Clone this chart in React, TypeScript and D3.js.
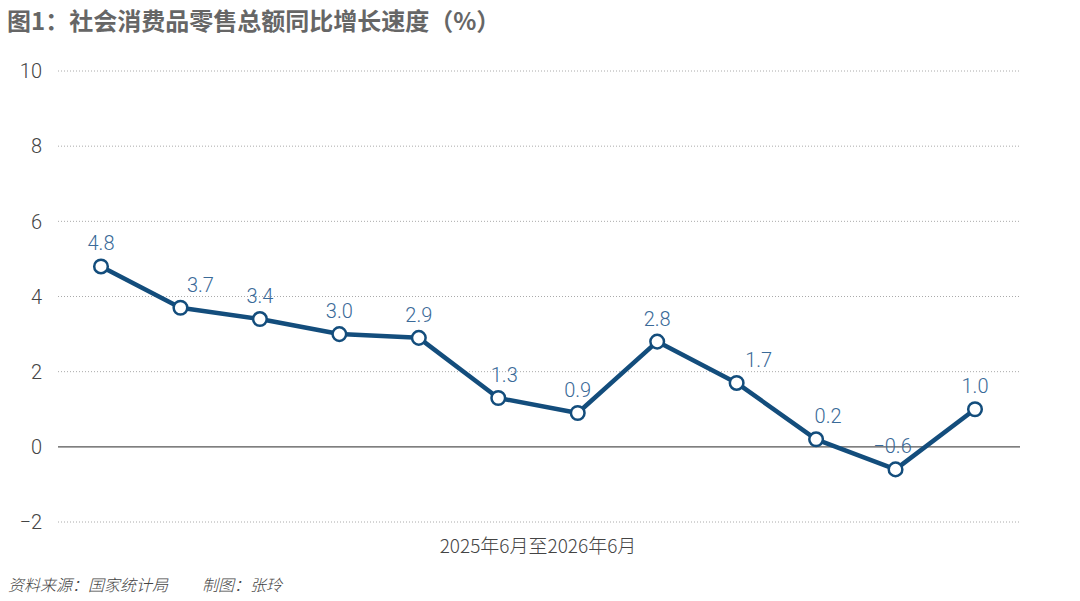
import * as d3 from "d3"
import React from "react"

// 2025年6月 — 2026年6月, one point per month
const months = ["2025-06", "2025-07", "2025-08", "2025-09", "2025-10", "2025-11", "2025-12", "2026-01", "2026-02", "2026-03", "2026-04", "2026-05"]
const growth = [4.8, 3.7, 3.4, 3.0, 2.9, 1.3, 0.9, 2.8, 1.7, 0.2, -0.6, 1.0]
const yTicks = [-2, 0, 2, 4, 6, 8, 10]
// small horizontal nudges so labels clear the line
const labelShift = [0, 20, 0, 0, 0, 6, 0, 0, 22, 12, -3, 0]

const title = "图1：社会消费品零售总额同比增长速度（%）"
const xTitle = "2025年6月至2026年6月"
const footer = "资料来源：国家统计局"
const credit = "制图：张玲"

const width = 1080,
  height = 601

function App() {
  const x = d3.scalePoint<string>().domain(months).range([101, 975])
  const y = d3.scaleLinear().domain([-2, 10]).range([522, 71])

  const line = d3
    .line<number>()
    .x((d, i) => x(months[i]))
    .y((d) => y(d))

  const font = "Roboto, 'Liberation Sans', sans-serif"
  const cjk = "'Noto Sans CJK SC', sans-serif"

  return (
    <svg
      width={width}
      height={height}
      style={{ position: "absolute", left: 0, top: 0, background: "#fff" }}
    >
      <text x={7} y={30} fontFamily={cjk} fontWeight="bold" fontSize={24} fill="#666">
        {title}
      </text>

      {yTicks.map((t) => (
        <g key={t}>
          <line
            x1={58}
            x2={1020}
            y1={y(t)}
            y2={y(t)}
            stroke={t === 0 ? "#555" : "#aaa"}
            strokeWidth={t === 0 ? 1.2 : 1}
            strokeDasharray={t === 0 ? null : "1,2"}
          />
          <text
            x={42}
            y={y(t)}
            dy="0.36em"
            textAnchor="end"
            fontFamily={font}
            fontWeight={300}
            fontSize={20}
            fill="#444"
          >
            {t < 0 ? "−" + Math.abs(t) : t}
          </text>
        </g>
      ))}

      <path d={line(growth)} fill="none" stroke="#134d7c" strokeWidth={4.5} strokeLinejoin="round" />

      {growth.map((v, i) => (
        <g key={months[i]}>
          <circle cx={x(months[i])} cy={y(v)} r={6.8} fill="#fff" stroke="#134d7c" strokeWidth={2.5} />
          <text
            x={x(months[i]) + labelShift[i]}
            y={y(v) - 16}
            textAnchor="middle"
            fontFamily={font}
            fontWeight={300}
            fontSize={20}
            fill="#3a6a98"
          >
            {v < 0 ? "−" + Math.abs(v).toFixed(1) : v.toFixed(1)}
          </text>
        </g>
      ))}

      <text x={538} y={553} textAnchor="middle" fontFamily={cjk} fontWeight={300} fontSize={19} fill="#444">
        {xTitle}
      </text>

      <text x={8} y={591} fontFamily={cjk} fontWeight={300} fontSize={16} fontStyle="italic" fill="#444">
        {footer}
        <tspan dx={34}>{credit}</tspan>
      </text>
    </svg>
  )
}

export default App
